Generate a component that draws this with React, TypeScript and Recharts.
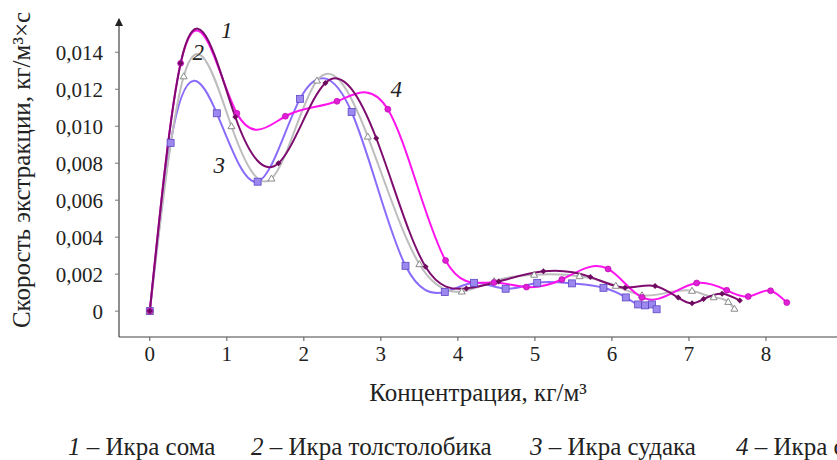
import React from 'react'
import { LineChart, Line, XAxis, YAxis, ReferenceDot } from 'recharts'

// concentration, kg/m3 and extraction rate, kg/(m3·s) per sample
const concSom = [0, 0.4, 1.11, 1.67, 2.28, 2.94, 3.58, 4.11, 4.53, 5.11, 5.72, 6.17, 6.56, 6.86, 7.04, 7.19, 7.43, 7.66]
const rateSom = [0, 0.0134, 0.0105, 0.008, 0.01234, 0.00935, 0.0024, 0.00123, 0.0016, 0.00215, 0.00185, 0.00127, 0.00136, 0.00073, 0.00042, 0.00065, 0.00094, 0.00057]

const concTolst = [0, 0.44, 1.06, 1.58, 2.17, 2.83, 3.5, 4.05, 4.47, 4.99, 5.58, 6.05, 6.39, 7.04, 7.32, 7.51, 7.59]
const rateTolst = [0, 0.0127, 0.01, 0.00717, 0.01247, 0.00944, 0.00254, 0.00106, 0.00162, 0.00197, 0.00189, 0.00137, 0.00086, 0.0011, 0.00075, 0.0005, 0.00013]

const concSudak = [0, 0.27, 0.87, 1.4, 1.95, 2.62, 3.32, 3.83, 4.21, 4.62, 5.03, 5.48, 5.89, 6.18, 6.34, 6.43, 6.52, 6.58]
const rateSudak = [0, 0.0091, 0.0107, 0.007, 0.01148, 0.01077, 0.00245, 0.00103, 0.00153, 0.00121, 0.00153, 0.0015, 0.00126, 0.00074, 0.00036, 0.00031, 0.00036, 0.0001]

const concFour = [0, 0.4, 1.13, 1.76, 2.43, 3.09, 3.84, 4.47, 4.89, 5.35, 5.95, 6.39, 7.1, 7.49, 7.77, 8.06, 8.27]
const rateFour = [0, 0.0134, 0.0107, 0.01054, 0.01135, 0.01092, 0.00274, 0.00155, 0.0013, 0.00171, 0.00228, 0.00074, 0.00152, 0.00113, 0.00079, 0.0011, 0.00046]

const xTicks = [0, 1, 2, 3, 4, 5, 6, 7, 8]
const yTicks = [0, 0.002, 0.004, 0.006, 0.008, 0.01, 0.012, 0.014]

const legendItems = [
  { num: '1', name: 'Икра сома', left: 68 },
  { num: '2', name: 'Икра толстолобика', left: 251 },
  { num: '3', name: 'Икра судака', left: 530 },
  { num: '4', name: 'Икра сазана', left: 736 },
]

const FONT = '"Liberation Serif", "Times New Roman", Times, serif'

const toPoints = (xs: number[], ys: number[]) => xs.map((x, i) => ({ x, y: ys[i] }))

// natural cubic spline slopes, y as a function of x
function splineSlopes(xs: number[], ys: number[]) {
  const n = xs.length
  const h: number[] = []
  const d: number[] = []
  for (let i = 0; i < n - 1; i++) {
    h[i] = xs[i + 1] - xs[i]
    d[i] = (ys[i + 1] - ys[i]) / h[i]
  }
  const M = new Array(n).fill(0)
  const a: number[] = [], b: number[] = [], c: number[] = [], r: number[] = []
  for (let i = 1; i < n - 1; i++) {
    a[i] = h[i - 1]
    b[i] = 2 * (h[i - 1] + h[i])
    c[i] = h[i]
    r[i] = 6 * (d[i] - d[i - 1])
  }
  for (let i = 2; i < n - 1; i++) {
    const w = a[i] / b[i - 1]
    b[i] -= w * c[i - 1]
    r[i] -= w * r[i - 1]
  }
  for (let i = n - 2; i >= 1; i--) {
    M[i] = (r[i] - (i < n - 2 ? c[i] * M[i + 1] : 0)) / b[i]
  }
  const m: number[] = []
  for (let i = 0; i < n - 1; i++) m[i] = d[i] - (h[i] * (2 * M[i] + M[i + 1])) / 6
  m[n - 1] = d[n - 2] + (h[n - 2] * (M[n - 2] + 2 * M[n - 1])) / 6
  return m
}

function smoothCurve(context: any) {
  let xs: number[] = []
  let ys: number[] = []
  return {
    areaStart() {},
    areaEnd() {},
    lineStart() {
      xs = []
      ys = []
    },
    lineEnd() {
      const n = xs.length
      if (!n) return
      context.moveTo(xs[0], ys[0])
      if (n < 3) {
        for (let i = 1; i < n; i++) context.lineTo(xs[i], ys[i])
        return
      }
      const m = splineSlopes(xs, ys)
      for (let i = 0; i < n - 1; i++) {
        const h = xs[i + 1] - xs[i]
        context.bezierCurveTo(
          xs[i] + h / 3, ys[i] + (m[i] * h) / 3,
          xs[i + 1] - h / 3, ys[i + 1] - (m[i + 1] * h) / 3,
          xs[i + 1], ys[i + 1],
        )
      }
    },
    point(x: number, y: number) {
      xs.push(+x)
      ys.push(+y)
    },
  }
}

const DiamondDot = (p: any) => (
  <path key={p.index} d={`M${p.cx},${p.cy - 3}L${p.cx + 3},${p.cy}L${p.cx},${p.cy + 3}L${p.cx - 3},${p.cy}Z`} fill="#6d0b5e" />
)
const TriangleDot = (p: any) => (
  <path key={p.index} d={`M${p.cx},${p.cy - 3.5}L${p.cx + 3.5},${p.cy + 2.5}L${p.cx - 3.5},${p.cy + 2.5}Z`} fill="#fff" stroke="#8a8a8a" strokeWidth={1} />
)
const SquareDot = (p: any) => (
  <rect key={p.index} x={p.cx - 3.5} y={p.cy - 3.5} width={7} height={7} fill="#9c88ee" stroke="#5e48c4" strokeWidth={0.8} />
)
const CircleDot = (p: any) => (
  <circle key={p.index} cx={p.cx} cy={p.cy} r={3} fill="#e21fd6" stroke="#b000a8" strokeWidth={0.6} />
)

const fmtY = (v: number) => (v === 0 ? '0' : v.toFixed(3).replace('.', ','))

const curveLabel = (text: string) => ({
  value: text,
  position: 'center' as const,
  style: { fontFamily: FONT, fontStyle: 'italic', fontSize: 23, fill: '#222' },
})

export default function App() {
  return (
    <div
      style={{
        position: 'fixed',
        left: 0,
        top: 0,
        width: 837,
        height: 460,
        overflow: 'hidden',
        background: '#fff',
        fontFamily: FONT,
        color: '#222',
      }}
    >
      <LineChart width={870} height={460} margin={{ top: 19, right: 27, left: 59, bottom: 93 }}>
        <defs>
          <marker id="axisArrow" markerWidth={8} markerHeight={10} refX={4} refY={1} markerUnits="userSpaceOnUse" orient="0">
            <path d="M0,8 L4,0 L8,8 Z" fill="#222" />
          </marker>
        </defs>
        <XAxis
          type="number"
          dataKey="x"
          domain={[-0.4, 9]}
          ticks={xTicks}
          allowDataOverflow
          height={30}
          tickSize={4}
          tickMargin={5}
          tick={{ fontFamily: FONT, fontSize: 21, fill: '#222' }}
          tickLine={{ stroke: '#555' }}
          axisLine={{ stroke: '#444', strokeWidth: 1.2 }}
        />
        <YAxis
          type="number"
          dataKey="y"
          domain={[-0.0014, 0.0158]}
          ticks={yTicks}
          allowDataOverflow
          width={60}
          tickSize={4}
          tickMargin={12}
          tickFormatter={fmtY}
          tick={{ fontFamily: FONT, fontSize: 21, fill: '#222' }}
          tickLine={{ stroke: '#777' }}
          axisLine={{ stroke: '#444', strokeWidth: 1.2, markerStart: 'url(#axisArrow)' }}
        />
        <Line data={toPoints(concSudak, rateSudak)} dataKey="y" type={smoothCurve as any} stroke="#8b6cfa" strokeWidth={2} dot={SquareDot} activeDot={false} isAnimationActive={false} />
        <Line data={toPoints(concTolst, rateTolst)} dataKey="y" type={smoothCurve as any} stroke="#bdbdbd" strokeWidth={2} dot={TriangleDot} activeDot={false} isAnimationActive={false} />
        <Line data={toPoints(concFour, rateFour)} dataKey="y" type={smoothCurve as any} stroke="#ff14ee" strokeWidth={2} dot={CircleDot} activeDot={false} isAnimationActive={false} />
        <Line data={toPoints(concSom, rateSom)} dataKey="y" type={smoothCurve as any} stroke="#7d0c6e" strokeWidth={2} dot={DiamondDot} activeDot={false} isAnimationActive={false} />
        <ReferenceDot x={1.0} y={0.0152} r={0} label={curveLabel('1')} />
        <ReferenceDot x={0.63} y={0.0140} r={0} label={curveLabel('2')} />
        <ReferenceDot x={0.9} y={0.0079} r={0} label={curveLabel('3')} />
        <ReferenceDot x={3.2} y={0.0120} r={0} label={curveLabel('4')} />
      </LineChart>

      <div
        style={{
          position: 'absolute',
          left: 22,
          top: 170,
          transform: 'translate(-50%, -50%) rotate(-90deg)',
          whiteSpace: 'nowrap',
          fontSize: 25,
        }}
      >
        Скорость экстракции, кг/м³×с
      </div>

      <div
        style={{
          position: 'absolute',
          left: 478,
          top: 393,
          transform: 'translate(-50%, -50%)',
          whiteSpace: 'nowrap',
          fontSize: 25,
        }}
      >
        Концентрация, кг/м³
      </div>

      {legendItems.map((it) => (
        <div
          key={it.num}
          style={{
            position: 'absolute',
            left: it.left,
            top: 447,
            transform: 'translateY(-50%)',
            whiteSpace: 'nowrap',
            fontSize: 25,
          }}
        >
          <i>{it.num}</i> – {it.name}
        </div>
      ))}
    </div>
  )
}
